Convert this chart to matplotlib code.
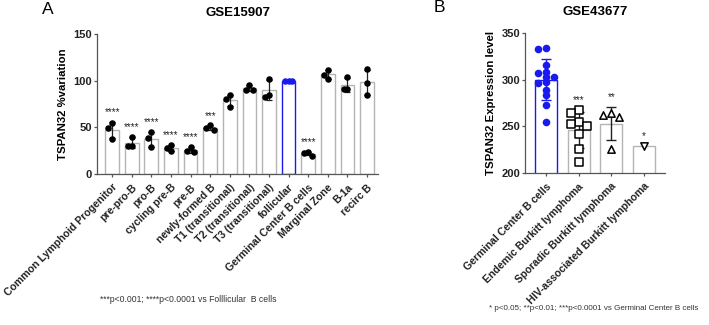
import numpy as np
import matplotlib.pyplot as plt

plt.rcParams['font.family'] = ['Liberation Sans', 'DejaVu Sans']

# panel A - GSE15907, % of follicular
a_labels = ['Common Lymphoid Progenitor', 'pre-pro-B', 'pro-B', 'cycling pre-B', 'pre-B',
            'newly-formed B', 'T1 (transitional)', 'T2 (transitional)', 'T3 (transitional)',
            'follicular', 'Germinal Center B cells', 'Marginal Zone', 'B-1a', 'recirc B']
a_points = [[54.5, 49, 37.5], [40, 30, 30.5], [44.5, 38.5, 28.5], [31, 27.5, 24.3],
            [29, 24.5, 23.5], [52, 49, 47], [84.5, 80, 72], [95.5, 90.5, 90],
            [101.8, 85, 82.5], [100, 100, 100], [19.6, 22.5, 23.2], [111.8, 106.4, 101.8],
            [104, 91, 91.5], [112, 98, 85]]
a_stars = ['****', '****', '****', '****', '****', '***', '', '', '', '', '****', '', '', '']
a_ref = 'follicular'

# panel B - GSE43677 expression level
b_labels = ['Germinal Center B cells', 'Endemic Burkitt lymphoma',
            'Sporadic Burkitt lymphoma', 'HIV-associated Burkitt lymphoma']
gc_b = [333, 334, 316, 308, 307, 303, 303, 297, 296, 289, 284, 273, 255]
endemic_bl = [268, 264, 255, 252, 250, 242, 226, 212]
sporadic_bl = [264, 262, 260, 226]
hiv_bl = [229]
b_points = [gc_b, endemic_bl, sporadic_bl, hiv_bl]
b_stars = ['', '***', '**', '*']

BLUE = '#1a1aee'
EDGE = '#b4b4b4'
AXC = '#555555'


def jitter(vals, step, xpx, ypx, sx, sy):
    # spread overlapping points sideways, like prism does
    vals = np.asarray(vals, dtype=float)
    offs = np.zeros(len(vals))
    placed = []
    for j in np.argsort(-vals, kind='stable'):
        v = vals[j]
        for k in [0, -1, 1, -2, 2, -3, 3]:
            o = k * step
            if all(((o - po) * xpx / sx) ** 2 + ((v - pv) * ypx / sy) ** 2 >= 1
                   for po, pv in placed):
                break
        placed.append((o, v))
        offs[j] = o
    return offs


def style_axis(ax, ylo, yhi, yticks):
    ax.spines[['top', 'right']].set_visible(False)
    for s in ['left', 'bottom']:
        ax.spines[s].set_color(AXC)
        ax.spines[s].set_linewidth(0.9)
    ax.spines['left'].set_bounds(ylo, yhi)
    ax.set_ylim(ylo, yhi)
    ax.set_yticks(yticks)
    ax.tick_params(colors=AXC, length=2.5, width=0.9, labelcolor='#222222')
    ax.tick_params(axis='y', pad=1)
    for t in ax.get_yticklabels():
        t.set_fontweight('bold')
        t.set_fontsize(8)


fig = plt.figure(figsize=(7.09, 3.25), dpi=100)

# ---- panel A
axA = fig.add_axes([97 / 709, 1 - 174 / 325, (378 - 97) / 709, 140 / 325])
xa = np.arange(len(a_labels))
for i, pts in enumerate(a_points):
    pts = np.array(pts, dtype=float)
    m, sd = pts.mean(), pts.std(ddof=1)
    ref = a_labels[i] == a_ref
    col = BLUE if ref else 'black'
    axA.bar(xa[i], m, width=0.7, color='white', edgecolor=BLUE if ref else EDGE,
            linewidth=1.0, zorder=1)
    if sd > 0:
        axA.errorbar(xa[i], m, yerr=sd, color='#222222', elinewidth=0.9,
                     capsize=2, capthick=0.9, zorder=2)
    offs = jitter(pts, 0.19, 19.6, 0.933, 3.5, 6)
    axA.scatter(xa[i] + offs, pts, s=22, color=col, zorder=3, linewidths=0)
    if a_stars[i]:
        top = max(m + sd, pts.max())
        axA.text(xa[i], top + 5, a_stars[i], ha='center', va='bottom',
                 fontsize=7, color='#222222')

axA.set_xlim(-0.77, 13.56)
style_axis(axA, 0, 150, [0, 50, 100, 150])
axA.set_xticks(xa)
axA.set_xticklabels(a_labels, rotation=45, ha='right', rotation_mode='anchor',
                    fontsize=7.6, fontweight='bold')
axA.set_ylabel('TSPAN32 %variation', fontsize=8.2, fontweight='bold', labelpad=4)
axA.set_title('GSE15907', fontsize=9.5, fontweight='bold', pad=13)

# ---- panel B
axB = fig.add_axes([525 / 709, 1 - 173 / 325, (665 - 525) / 709, 140 / 325])
xb = np.arange(len(b_labels))
markers = ['o', 's', '^', 'v']
for i, pts in enumerate(b_points):
    pts = np.array(pts, dtype=float)
    m = pts.mean()
    sd = pts.std(ddof=1) if len(pts) > 1 else 0
    gc = i == 0
    axB.bar(xb[i], m, width=0.67, color='white', edgecolor=BLUE if gc else EDGE,
            linewidth=1.0, zorder=1)
    if sd > 0:
        axB.errorbar(xb[i], m, yerr=sd, color=BLUE if gc else '#222222', elinewidth=1.0,
                     capsize=3.5, capthick=1.0, zorder=2)
    if gc:
        offs = jitter(pts, 0.245, 32.7, 0.933, 7, 4)
        axB.scatter(xb[i] + offs, pts, s=30, color=BLUE, marker='o', zorder=3, linewidths=0)
    else:
        offs = jitter(pts, 0.245, 32.7, 0.933, 7, 6)
        axB.scatter(xb[i] + offs, pts, s=28, facecolor='white', edgecolor='black',
                    marker=markers[i], linewidths=1.1, zorder=3)
    if b_stars[i]:
        top = max(m + sd, pts.max())
        axB.text(xb[i], top + 5, b_stars[i], ha='center', va='bottom',
                 fontsize=7, color='#222222')

axB.set_xlim(-0.64, 3.64)
style_axis(axB, 200, 350, [200, 250, 300, 350])
axB.set_xticks(xb)
axB.set_xticklabels(b_labels, rotation=45, ha='right', rotation_mode='anchor',
                    fontsize=7.6, fontweight='bold')
axB.set_ylabel('TSPAN32 Expression level', fontsize=8.2, fontweight='bold', labelpad=4)
axB.set_title('GSE43677', fontsize=9.5, fontweight='bold', pad=13)

# panel letters and footnotes
fig.text(48 / 709, 1 - 10 / 325, 'A', fontsize=12.5, ha='center', va='center')
fig.text(439 / 709, 1 - 8 / 325, 'B', fontsize=12.5, ha='center', va='center')
fig.text(188 / 709, 1 - 300 / 325, '***p<0.001; ****p<0.0001 vs Folllicular  B cells',
         fontsize=6.2, ha='center', va='center', color='#333333')
fig.text(489 / 709, 1 - 309 / 325, '* p<0.05; **p<0.01; ***p<0.0001 vs Germinal Center B cells',
         fontsize=5.8, ha='left', va='center', color='#333333')

fig.savefig('out.png', dpi=100)
